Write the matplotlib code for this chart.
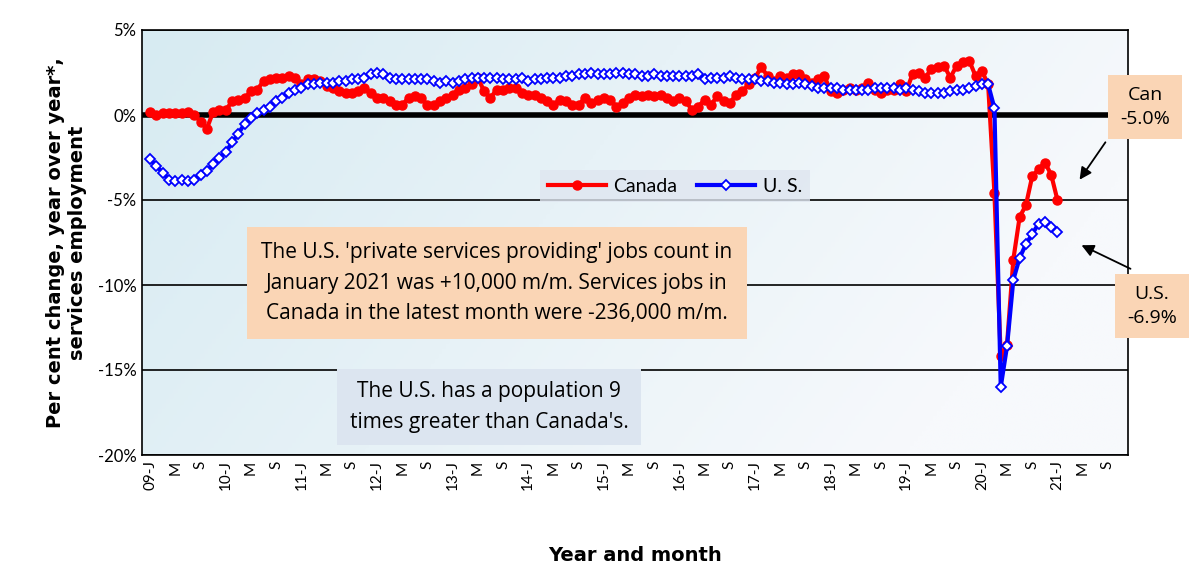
import numpy as np
import matplotlib.pyplot as plt
from matplotlib.colors import LinearSegmentedColormap

canada = [0.2,0.0,0.1,0.1,0.1,0.1,0.2,0.0,-0.4,-0.8,0.2,0.3,
          0.3,0.8,0.9,1.0,1.4,1.5,2.0,2.1,2.2,2.2,2.3,2.2,
          1.8,2.1,2.1,2.0,1.7,1.6,1.4,1.3,1.3,1.4,1.6,1.3,
          1.0,1.0,0.8,0.6,0.6,1.0,1.1,1.0,0.6,0.6,0.8,1.0,
          1.2,1.5,1.6,1.8,2.2,1.4,1.0,1.5,1.5,1.6,1.6,1.3,
          1.2,1.2,1.0,0.8,0.6,0.9,0.8,0.6,0.6,1.0,0.7,0.9,
          1.0,0.9,0.5,0.7,1.0,1.2,1.1,1.2,1.1,1.2,1.0,0.8,
          1.0,0.8,0.3,0.5,0.9,0.6,1.1,0.8,0.7,1.2,1.4,1.8,
          2.2,2.8,2.3,2.0,2.3,2.2,2.4,2.4,2.1,1.9,2.1,2.3,
          1.4,1.3,1.5,1.6,1.5,1.6,1.9,1.5,1.3,1.5,1.5,1.8,
          1.4,2.4,2.5,2.2,2.7,2.8,2.9,2.2,2.9,3.1,3.2,2.3,
          2.6,1.8,-4.6,-14.2,-13.5,-8.5,-6.0,-5.3,-3.6,-3.2,-2.8,-3.5,
          -5.0]
us = [-2.6,-3.0,-3.4,-3.8,-3.9,-3.8,-3.9,-3.8,-3.5,-3.3,-2.9,-2.5,
      -2.2,-1.6,-1.1,-0.5,-0.2,0.1,0.3,0.5,0.8,1.0,1.3,1.5,
      1.6,1.8,1.8,1.9,1.9,1.9,2.0,2.0,2.1,2.1,2.2,2.4,
      2.5,2.4,2.2,2.1,2.1,2.1,2.1,2.1,2.1,2.0,1.9,2.0,
      1.9,2.0,2.1,2.2,2.2,2.2,2.2,2.2,2.1,2.1,2.1,2.2,
      2.0,2.1,2.1,2.2,2.2,2.2,2.3,2.3,2.4,2.4,2.5,2.4,
      2.4,2.4,2.5,2.5,2.4,2.4,2.3,2.3,2.4,2.3,2.3,2.3,
      2.3,2.3,2.3,2.4,2.1,2.2,2.2,2.2,2.3,2.2,2.1,2.1,
      2.1,2.0,2.0,1.9,1.9,1.8,1.8,1.9,1.8,1.7,1.6,1.6,
      1.6,1.6,1.5,1.5,1.5,1.5,1.5,1.6,1.6,1.6,1.6,1.5,
      1.6,1.5,1.4,1.3,1.3,1.3,1.3,1.4,1.5,1.5,1.6,1.7,
      1.8,1.8,0.4,-16.0,-13.6,-9.7,-8.4,-7.6,-7.0,-6.4,-6.3,-6.6,
      -6.9]
years = ["09","10","11","12","13","14","15","16","17","18","19","20","21"]
y_ticks = [5, 0, -5, -10, -15, -20]

tick_pos, tick_lab = [], []
for i, yr in enumerate(years):
    for m, lab in zip((0, 4, 8), (yr + "-J", "M", "S")):
        tick_pos.append(i * 12 + m)
        tick_lab.append(lab)

fig = plt.figure(figsize=(12, 5.74), dpi=100)
ax = fig.add_axes([142/1200, 1 - 455/574, (1128-142)/1200, (455-30)/574])
xmin, xmax = -1.3, 155.2
ax.set_xlim(xmin, xmax)
ax.set_ylim(-20, 5)

g = np.linspace(0, 1, 256)
X, Y = np.meshgrid(g, g)
Z = np.clip(1 - (X * 0.9 + (1 - Y) * 0.3), 0, 1)
cm = LinearSegmentedColormap.from_list("bg", ["#f7f9fc", "#d7ebf2"])
ax.imshow(Z, extent=[xmin, xmax, -20, 5], aspect="auto", cmap=cm, origin="lower", zorder=0)

for yv in y_ticks:
    ax.axhline(yv, color="black", lw=4 if yv == 0 else 1.2, zorder=1)

ax.plot(np.arange(len(canada)), canada, color="#ff0000", lw=3, marker="o", ms=6.5, zorder=3, label="Canada")
ax.plot(np.arange(len(us)), us, color="#0000ff", lw=3, marker="D", ms=5,
        mfc="white", mec="#0000ff", mew=1.3, zorder=4, label="U. S.")

ax.set_yticks(y_ticks)
ax.set_yticklabels([f"{v}%" for v in y_ticks], fontsize=12, fontfamily="Lato")
ax.set_xticks(tick_pos)
ax.set_xticklabels(tick_lab, rotation=90, fontsize=11, fontfamily="Lato")
ax.tick_params(length=0, pad=4)
for s in ax.spines.values():
    s.set_linewidth(1.2)

ax.set_ylabel("Per cent change, year over year*,\nservices employment", fontsize=14,
              fontweight="bold", labelpad=8)
ax.set_xlabel("Year and month", fontsize=14, fontweight="bold", labelpad=40)

leg = ax.legend(loc="upper left", bbox_to_anchor=((530-142)/986, 1 - (160-30)/425), ncol=2,
                frameon=True, fancybox=False, handlelength=3, columnspacing=1.0,
                handletextpad=0.4, prop={"family": "Lato", "size": 14})
leg.get_frame().set_facecolor("#dfe6f0")
leg.get_frame().set_edgecolor("none")

fig.text(497/1200, 1 - 283/574,
         "The U.S. 'private services providing' jobs count in\nJanuary 2021 was +10,000 m/m. Services jobs in\nCanada in the latest month were -236,000 m/m.",
         ha="center", va="center", fontsize=15, fontfamily="Open Sans", linespacing=1.6,
         bbox=dict(boxstyle="square,pad=0.7", fc="#fad5b5", ec="none"), zorder=5)
fig.text(489/1200, 1 - 407/574, "The U.S. has a population 9\ntimes greater than Canada's.",
         ha="center", va="center", fontsize=15, fontfamily="Open Sans", linespacing=1.6,
         bbox=dict(boxstyle="square,pad=0.6", fc="#dce5f0", ec="none"), zorder=5)
fig.text(1145/1200, 1 - 107/574, "Can\n-5.0%", ha="center", va="center", fontsize=14,
         fontfamily="Open Sans", linespacing=1.4,
         bbox=dict(boxstyle="square,pad=0.6", fc="#fad5b5", ec="none"))
fig.text(1152/1200, 1 - 306/574, "U.S.\n-6.9%", ha="center", va="center", fontsize=14,
         fontfamily="Open Sans", linespacing=1.4,
         bbox=dict(boxstyle="square,pad=0.6", fc="#fad5b5", ec="none"))
fig.add_artist(plt.Annotation("", xy=(1078/1200, 1 - 182/574), xytext=(1107/1200, 1 - 140/574),
               xycoords="figure fraction", textcoords="figure fraction",
               arrowprops=dict(arrowstyle="-|>", color="black", lw=1.3, mutation_scale=18)))
fig.add_artist(plt.Annotation("", xy=(1079/1200, 1 - 244/574), xytext=(1133/1200, 1 - 270/574),
               xycoords="figure fraction", textcoords="figure fraction",
               arrowprops=dict(arrowstyle="-|>", color="black", lw=1.3, mutation_scale=18)))

fig.savefig("out.png", dpi=100)
